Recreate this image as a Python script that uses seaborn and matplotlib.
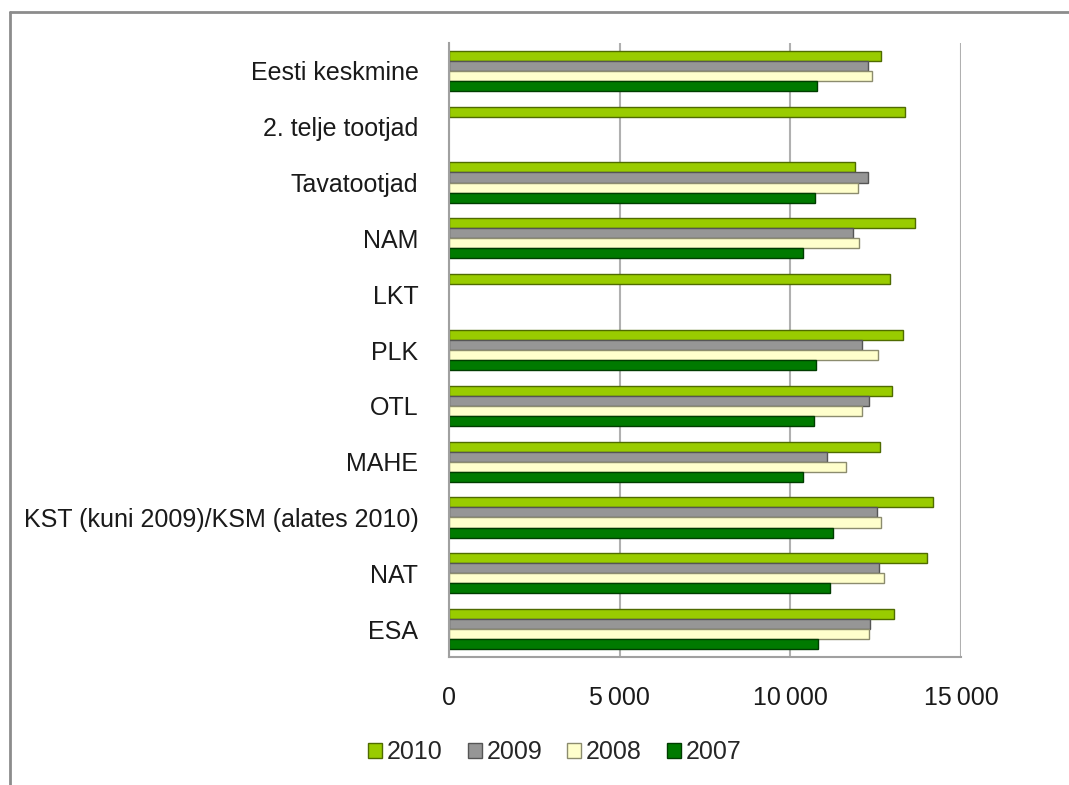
#Script for grouped horizontal bar chart by producer group

import numpy as np
import pandas as pd
import matplotlib
matplotlib.use("Agg")
import matplotlib.pyplot as plt
import seaborn as sns
from matplotlib.ticker import FuncFormatter, FixedLocator
from matplotlib.lines import Line2D
from matplotlib.patches import Patch

categories = ["Eesti keskmine", "2. telje tootjad", "Tavatootjad", "NAM", "LKT",
              "PLK", "OTL", "MAHE", "KST (kuni 2009)/KSM (alates 2010)", "NAT", "ESA"]
years = ["2010", "2009", "2008", "2007"]

vals_2010 = [12660, 13360, 11900, 13650, 12920, 13300, 12990, 12630, 14180, 14010, 13040]
vals_2009 = [12280, np.nan, 12280, 11840, np.nan, 12100, 12310, 11080, 12540, 12600, 12340]
vals_2008 = [12400, np.nan, 11990, 12020, np.nan, 12570, 12100, 11640, 12660, 12750, 12310]
vals_2007 = [10790, np.nan, 10730, 10380, np.nan, 10760, 10700, 10380, 11260, 11170, 10820]

fill_colors = ["#99CC00", "#969696", "#FFFFCC", "#007A00"]
edge_colors = ["#4F6B00", "#555555", "#8C8C6E", "#003D00"]


def build_frame():
    #Long-form table for seaborn
    rows = []
    for year, vals in zip(years, [vals_2010, vals_2009, vals_2008, vals_2007]):
        for cat, v in zip(categories, vals):
            rows.append({"Kategooria": cat, "Aasta": year, "Väärtus": v})
    return pd.DataFrame(rows)


def draw_chart(data):
    sns.set_style("white")
    plt.rcParams["font.family"] = ["Liberation Sans", "DejaVu Sans"]

    fig = plt.figure(figsize=(10.69, 7.85), dpi=100)
    ax = fig.add_axes([449 / 1069, 1 - 657 / 785, 512 / 1069, 614 / 785])

    sns.barplot(
        data=data, y="Kategooria", x="Väärtus", hue="Aasta",
        order=categories, hue_order=years, palette=fill_colors,
        orient="h", width=0.72, errorbar=None, ax=ax, legend=False,
        linewidth=1.0, saturation=1,
    )
    # darker outline per series
    for cont, ec in zip(ax.containers, edge_colors):
        for bar in cont:
            bar.set_edgecolor(ec)

    ax.set_xlim(0, 15000)
    ax.set_ylim(len(categories) - 0.5, -0.5)
    ax.set_xticks([0, 5000, 10000, 15000])
    ax.xaxis.set_major_formatter(FuncFormatter(lambda v, p: f"{int(v):,}".replace(",", "\u2009")))
    ax.xaxis.grid(True, color="#B0B0B0", linewidth=1.5)
    ax.set_axisbelow(True)
    ax.set_xlabel("")
    ax.set_ylabel("")
    for side in ["top", "right"]:
        ax.spines[side].set_visible(False)
    for side in ["left", "bottom"]:
        ax.spines[side].set_color("#A0A0A0")
        ax.spines[side].set_linewidth(1.5)
    ax.tick_params(axis="x", labelsize=18, colors="#1A1A1A", length=6, pad=18,
                   color="#A0A0A0", direction="inout", width=1.5)
    ax.tick_params(axis="y", which="major", labelsize=18, colors="#1A1A1A", length=0, pad=22)
    # small tick marks between categories
    ax.yaxis.set_minor_locator(FixedLocator(np.arange(-0.5, len(categories), 1.0)))
    ax.tick_params(axis="y", which="minor", length=5, color="#A0A0A0", width=1.2)

    handles = [Patch(facecolor=fc, edgecolor=ec, label=y)
               for fc, ec, y in zip(fill_colors, edge_colors, years)]
    fig.legend(handles=handles, loc="center", bbox_to_anchor=(555 / 1069, 1 - 752 / 785),
               ncol=4, frameon=False, fontsize=18, handlelength=0.55, handleheight=0.55,
               handletextpad=0.2, columnspacing=1.0)

    # outer chart frame (left and top edges are visible)
    fig.add_artist(Line2D([10 / 1069, 10 / 1069], [0, 1 - 12 / 785],
                          transform=fig.transFigure, color="#8C8C8C", linewidth=2))
    fig.add_artist(Line2D([10 / 1069, 1], [1 - 12 / 785, 1 - 12 / 785],
                          transform=fig.transFigure, color="#8C8C8C", linewidth=2))

    fig.savefig("out.png", dpi=100)


if __name__ == "__main__":
    data = build_frame()
    draw_chart(data)
